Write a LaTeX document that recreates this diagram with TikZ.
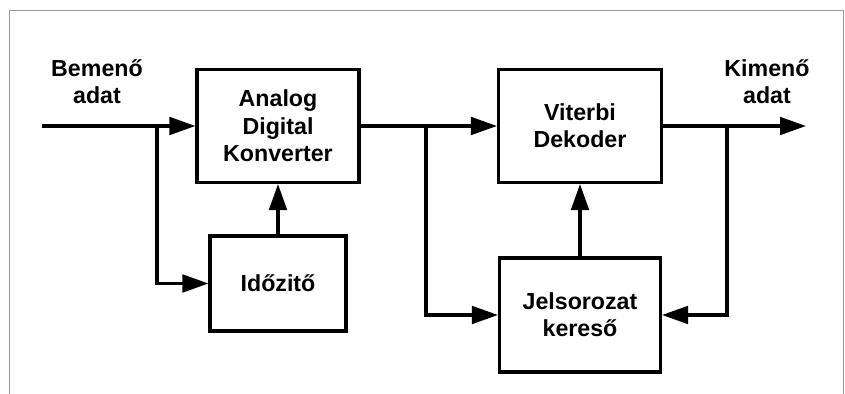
\documentclass[tikz,border=0pt]{standalone}
\usepackage{fontspec}
\setmainfont{Liberation Sans}
\usetikzlibrary{arrows.meta}

\begin{document}
\begin{tikzpicture}[
	blokk/.style={draw,line width=2.2pt,minimum width=4.05cm,minimum height=2.825cm,align=center,font=\bfseries\fontsize{16.5}{19.5}\selectfont},
	felirat/.style={align=center,font=\bfseries\fontsize{16.5}{19.5}\selectfont},
	nyil/.style={line width=2.2pt,-{Triangle[length=0.65cm,width=0.44cm]}}]
			\useasboundingbox (0,0) rectangle (21.125,9.85);
			\draw[gray!80,line width=0.7pt] (0.225,0) |- (21.075,9.575) -- (21.075,0);
			\draw (6.95,6.7) node [blokk] (adc) {Analog\\Digital\\Konverter};
			\draw (6.95,2.7625) node [blokk,minimum width=3.4cm,minimum height=2.375cm] (ido) {Időzitő};
			\draw (14.5,6.7) node [blokk,minimum width=4.075cm] (vit) {Viterbi\\Dekoder};
			\draw (14.5,1.975) node [blokk,minimum width=4.025cm,minimum height=2.85cm] (jel) {Jelsorozat\\kereső};
			\draw (2.425,7.8) node [felirat] (be) {Bemenő\\adat};
			\draw (19.175,7.8) node [felirat] (ki) {Kimenő\\adat};
			\coordinate (in) at (1.05,6.7);
			\coordinate (ag1) at (3.925,6.7);
			\coordinate (ag2) at (10.65,6.7);
			\coordinate (ag3) at (18.175,6.7);
			\coordinate (out) at (20.15,6.7);
			\draw[nyil] (in) -- (adc.west);
			\draw[nyil] (ag1) |- (ido.west);
			\draw[nyil] (ido.north) -- (adc.south);
			\draw[nyil] (adc.east) -- (vit.west);
			\draw[nyil] (ag2) |- (jel.west);
			\draw[nyil] (jel.north) -- (vit.south);
			\draw[nyil] (vit.east) -- (out);
			\draw[nyil] (ag3) |- (jel.east);
\end{tikzpicture}
\end{document}
